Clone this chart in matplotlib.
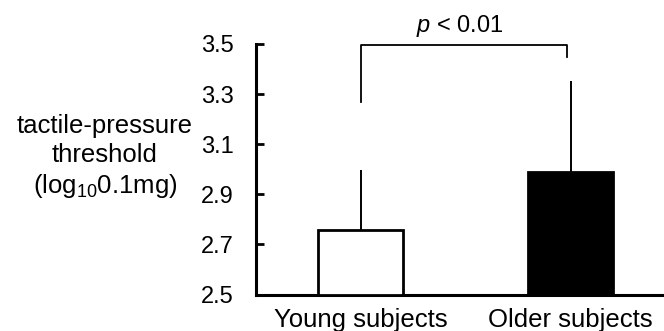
import matplotlib
matplotlib.use("Agg")
import matplotlib.pyplot as plt

plt.rcParams['font.family'] = ['Liberation Sans', 'DejaVu Sans']
plt.rcParams['mathtext.fontset'] = 'custom'
plt.rcParams['mathtext.rm'] = 'Liberation Sans'
plt.rcParams['mathtext.it'] = 'Liberation Sans:italic'

categories = ["Young subjects", "Older subjects"]
means = [2.758, 2.989]
sd_upper = [0.240, 0.365]
bar_colors = ["white", "black"]
yticks = [2.5, 2.7, 2.9, 3.1, 3.3, 3.5]
ytick_labels = ["2.5", "2.7", "2.9", "3.1", "3.3", "3.5"]
sig_label = "p < 0.01"

fig = plt.figure(figsize=(6.64, 3.31), dpi=100)
ax = fig.add_axes([256/664, 1 - 294.5/331, 1 - 256/664, (294.5 - 44)/331])

x = list(range(len(categories)))
ax.bar(x, [m - 2.5 for m in means], bottom=2.5, width=0.405,
       color=bar_colors, edgecolor="black", linewidth=2.0, zorder=3)
for xi, m, e in zip(x, means, sd_upper):
    ax.plot([xi, xi], [m, m + e], color="black", linewidth=1.4, zorder=2,
            solid_capstyle="butt")

# significance bracket
ax.plot([0, 0, 0.985, 0.985], [3.27, 3.495, 3.495, 3.45], color="black",
        linewidth=1.3, clip_on=False, zorder=4)
ax.text(0.47, 3.57, r"$\it{p}$ < 0.01", ha="center", va="center", fontsize=17)

ax.set_xlim(-0.498, 1.445)
ax.set_ylim(2.5, 3.5)
ax.set_yticks(yticks)
ax.set_yticklabels(ytick_labels, fontsize=17)
ax.set_xticks(x)
ax.set_xticklabels(categories, fontsize=18.5)
ax.tick_params(axis="y", direction="in", length=6, width=2, pad=16)
ax.tick_params(axis="x", length=0, pad=10)
for s in ["top", "right"]:
    ax.spines[s].set_visible(False)
for s in ["left", "bottom"]:
    ax.spines[s].set_linewidth(2.2)

fig.text(105/664, 1 - 157/331, "tactile-pressure\nthreshold\n(log$_{10}$0.1mg)",
         ha="center", va="center", fontsize=18.5, linespacing=1.27)

fig.savefig("out.png", dpi=100)
